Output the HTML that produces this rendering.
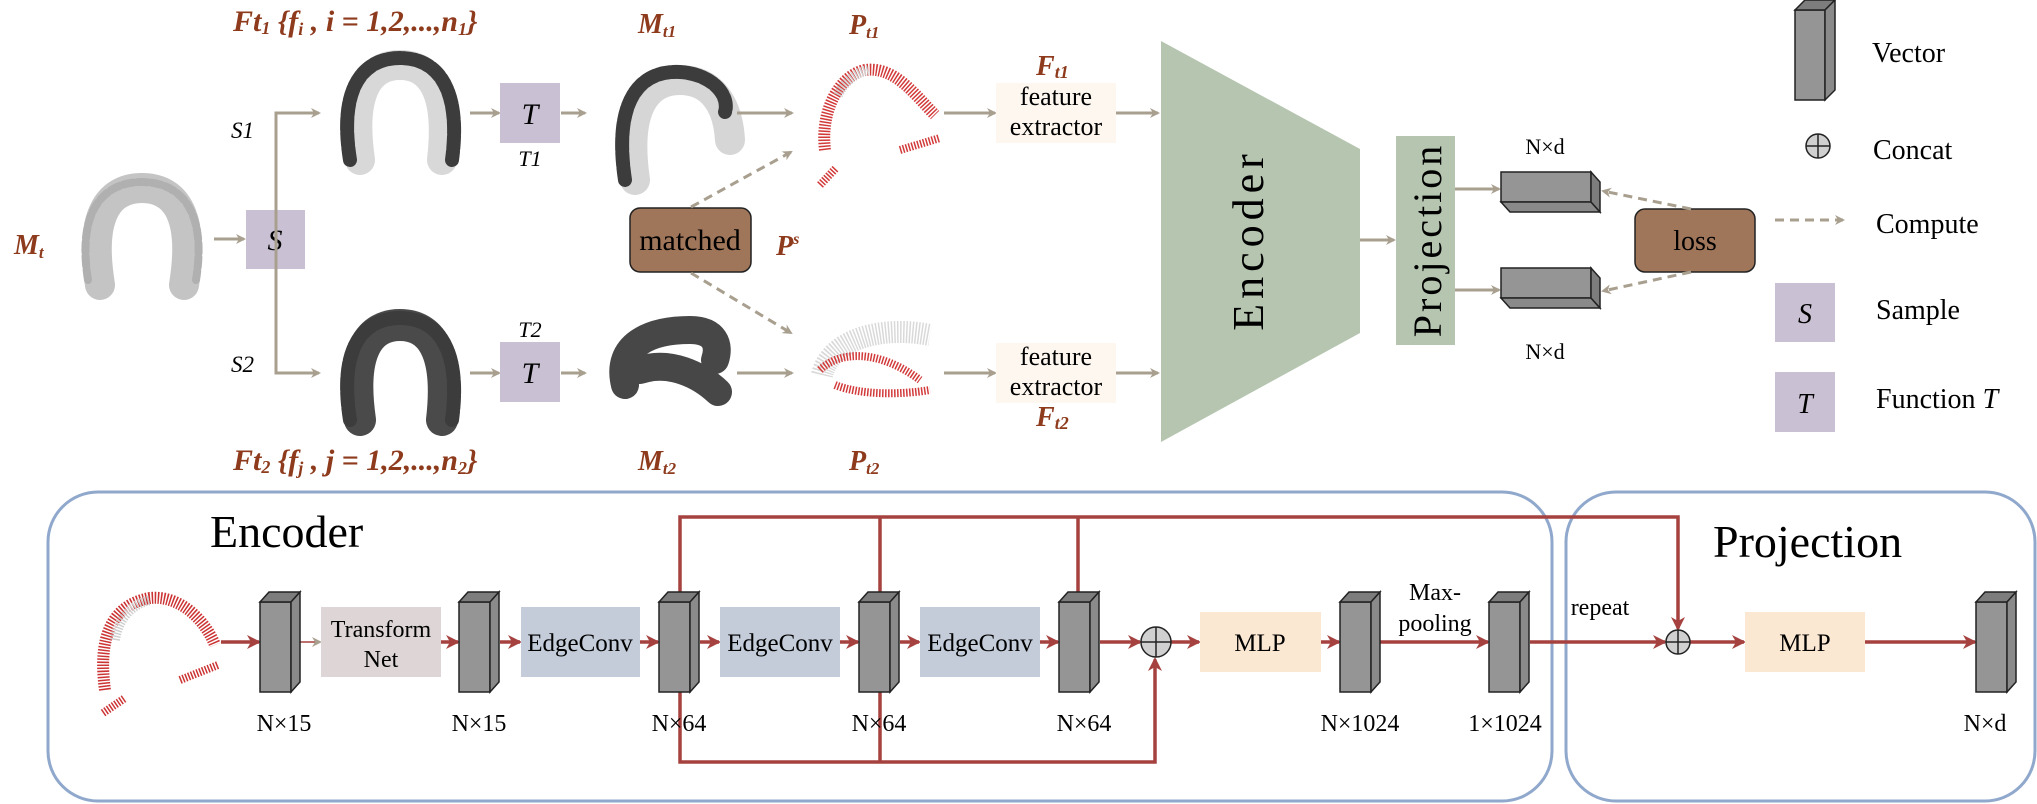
<!DOCTYPE html>
<html><head><meta charset="utf-8"><style>
html,body{margin:0;padding:0;background:#fff;}
svg{display:block;font-family:"Liberation Serif",serif;}
.br{fill:#8e3a1c;font-style:italic;font-weight:bold;}
</style></head><body>
<svg width="2037" height="804" viewBox="0 0 2037 804" xmlns="http://www.w3.org/2000/svg">
<defs>
<marker id="ag" markerWidth="10" markerHeight="10" refX="8" refY="5" orient="auto" markerUnits="userSpaceOnUse"><path d="M0,0 L10,5 L0,10 L3,5 Z" fill="#a89f8f"/></marker>
<marker id="ar" markerWidth="14" markerHeight="14" refX="12" refY="7" orient="auto" markerUnits="userSpaceOnUse"><path d="M0,0 L14,7 L0,14 L4,7 Z" fill="#a5423f"/></marker>
<g id="vec" stroke="#222" stroke-width="1.5" fill="#959595">
<rect x="0" y="10" width="31" height="90"/>
<polygon points="0,10 9,0 40,0 31,10" fill="#7d7d7d"/>
<polygon points="31,10 40,0 40,90 31,100" fill="#8a8a8a"/>
</g>
<g id="hvec" stroke="#222" stroke-width="1.5" fill="#959595">
<rect x="0" y="0" width="90" height="30"/>
<polygon points="0,30 90,30 99,40 9,40" fill="#8a8a8a"/>
<polygon points="90,0 99,10 99,40 90,30" fill="#7d7d7d"/>
</g>
</defs>

<!-- ===== top section ===== -->
<text class="br" x="233" y="31" font-size="30">Ft<tspan font-size="18" dy="3">1</tspan><tspan dy="-3"> {f</tspan><tspan font-size="18" dy="4">i</tspan><tspan dy="-4"> , i = 1,2,...,n</tspan><tspan font-size="18" dy="4">1</tspan><tspan dy="-4">}</tspan></text>
<text class="br" x="638" y="33" font-size="28">M<tspan font-size="17" dy="4">t1</tspan></text>
<text class="br" x="849" y="34" font-size="28">P<tspan font-size="17" dy="4">t1</tspan></text>
<text class="br" x="14" y="254" font-size="28">M<tspan font-size="17" dy="4">t</tspan></text>
<text class="br" x="233" y="470" font-size="30">Ft<tspan font-size="18" dy="3">2</tspan><tspan dy="-3"> {f</tspan><tspan font-size="18" dy="4">j</tspan><tspan dy="-4"> , j = 1,2,...,n</tspan><tspan font-size="18" dy="4">2</tspan><tspan dy="-4">}</tspan></text>
<text class="br" x="638" y="470" font-size="28">M<tspan font-size="17" dy="4">t2</tspan></text>
<text class="br" x="849" y="470" font-size="28">P<tspan font-size="17" dy="4">t2</tspan></text>
<text class="br" x="1036" y="75" font-size="28">F<tspan font-size="18" dy="3">t1</tspan></text>
<text class="br" x="1036" y="426" font-size="28">F<tspan font-size="18" dy="3">t2</tspan></text>
<text class="br" x="776" y="255" font-size="28">P<tspan font-size="16" dy="-11">s</tspan></text>

<!-- Mt mesh -->
<path d="M100,285 C88,210 112,188 142,188 C172,188 196,210 184,285" fill="none" stroke="#c4c4c4" stroke-width="30" stroke-linecap="round"/>
<path d="M88,280 C76,205 108,182 142,182 C176,182 208,205 196,280" fill="none" stroke="#b0b0b0" stroke-width="8" stroke-dasharray="10 4" stroke-linecap="round"/>

<!-- S branches -->
<line x1="214" y1="239" x2="244" y2="239" stroke="#a89f8f" stroke-width="3" marker-end="url(#ag)"/>
<rect x="246" y="210" width="59" height="59" fill="#c9c0d3"/>
<text x="275" y="250" font-size="30" font-style="italic" text-anchor="middle">S</text>
<polyline points="319,113 276,113 276,373 319,373" fill="none" stroke="#a89f8f" stroke-width="3"/>
<line x1="300" y1="113" x2="319" y2="113" stroke="#a89f8f" stroke-width="3" marker-end="url(#ag)"/>
<line x1="300" y1="373" x2="319" y2="373" stroke="#a89f8f" stroke-width="3" marker-end="url(#ag)"/>
<text x="231" y="138" font-size="23" font-style="italic">S1</text>
<text x="231" y="372" font-size="23" font-style="italic">S2</text>

<!-- mesh 1 -->
<path d="M360,160 C350,90 370,65 400,65 C430,65 450,90 442,160" fill="none" stroke="#d8d8d8" stroke-width="30" stroke-linecap="round"/>
<path d="M350,160 C338,85 365,58 400,58 C435,58 462,85 452,160" fill="none" stroke="#3c3c3c" stroke-width="14" stroke-dasharray="12 3" stroke-linecap="round"/>
<!-- mesh 2 -->
<path d="M360,420 C350,350 370,325 400,325 C430,325 450,350 442,420" fill="none" stroke="#4a4a4a" stroke-width="32" stroke-linecap="round"/>
<path d="M350,420 C338,345 365,318 400,318 C435,318 462,345 452,420" fill="none" stroke="#3c3c3c" stroke-width="14" stroke-dasharray="12 3" stroke-linecap="round"/>

<line x1="470" y1="113" x2="499" y2="113" stroke="#a89f8f" stroke-width="3" marker-end="url(#ag)"/>
<line x1="470" y1="373" x2="499" y2="373" stroke="#a89f8f" stroke-width="3" marker-end="url(#ag)"/>
<rect x="500" y="83" width="60" height="60" fill="#c9c0d3"/>
<text x="530" y="124" font-size="30" font-style="italic" text-anchor="middle">T</text>
<rect x="500" y="342" width="60" height="60" fill="#c9c0d3"/>
<text x="530" y="383" font-size="30" font-style="italic" text-anchor="middle">T</text>
<text x="530" y="166" font-size="22" font-style="italic" text-anchor="middle">T1</text>
<text x="530" y="337" font-size="22" font-style="italic" text-anchor="middle">T2</text>
<line x1="561" y1="113" x2="585" y2="113" stroke="#a89f8f" stroke-width="3" marker-end="url(#ag)"/>
<line x1="561" y1="373" x2="585" y2="373" stroke="#a89f8f" stroke-width="3" marker-end="url(#ag)"/>

<!-- Mt1 mesh -->
<path d="M635,180 C625,110 645,80 680,80 C712,80 728,105 730,140" fill="none" stroke="#d6d6d6" stroke-width="30" stroke-linecap="round"/>
<path d="M625,180 C613,100 640,70 680,72 C712,74 730,95 725,112" fill="none" stroke="#3c3c3c" stroke-width="14" stroke-dasharray="12 3" stroke-linecap="round"/>
<!-- Mt2 mesh -->
<path d="M625,385 C615,345 650,330 690,330 C715,330 720,345 715,360 M640,370 C670,360 700,375 718,392" fill="none" stroke="#474747" stroke-width="28" stroke-linecap="round"/>

<line x1="737" y1="113" x2="792" y2="113" stroke="#a89f8f" stroke-width="3" marker-end="url(#ag)"/>
<line x1="737" y1="373" x2="792" y2="373" stroke="#a89f8f" stroke-width="3" marker-end="url(#ag)"/>

<!-- Pt1 point cloud -->
<path d="M825,150 C820,110 840,75 865,70 C895,66 915,95 935,115" fill="none" stroke="#d23a3a" stroke-width="12" stroke-dasharray="1.5 1.5"/>
<path d="M838,95 C845,80 858,72 868,70" fill="none" stroke="#cfcfcf" stroke-width="10" stroke-dasharray="1.5 1.5"/>
<path d="M900,150 L940,138 M820,185 L836,168" fill="none" stroke="#d23a3a" stroke-width="8" stroke-dasharray="1.5 1.5"/>
<!-- Pt2 point cloud -->
<path d="M822,375 C830,340 880,325 930,335" fill="none" stroke="#d9d9d9" stroke-width="22" stroke-dasharray="1.5 1.5"/>
<path d="M820,370 C840,350 880,350 920,380 M835,385 C860,395 900,395 930,390" fill="none" stroke="#d23a3a" stroke-width="8" stroke-dasharray="1.5 1.5"/>

<line x1="944" y1="113" x2="995" y2="113" stroke="#a89f8f" stroke-width="3" marker-end="url(#ag)"/>
<line x1="944" y1="373" x2="995" y2="373" stroke="#a89f8f" stroke-width="3" marker-end="url(#ag)"/>

<!-- matched -->
<rect x="630" y="208" width="121" height="64" rx="10" fill="#a0765a" stroke="#222" stroke-width="1.5"/>
<text x="690" y="250" font-size="30" text-anchor="middle">matched</text>
<line x1="691" y1="207" x2="791" y2="152" stroke="#a89f8f" stroke-width="3" stroke-dasharray="9 6" marker-end="url(#ag)"/>
<line x1="691" y1="273" x2="791" y2="333" stroke="#a89f8f" stroke-width="3" stroke-dasharray="9 6" marker-end="url(#ag)"/>

<!-- feature extractors -->
<rect x="996" y="83" width="120" height="60" fill="#fdf7ef"/>
<text x="1056" y="105" font-size="26" text-anchor="middle">feature</text>
<text x="1056" y="135" font-size="26" text-anchor="middle">extractor</text>
<rect x="996" y="343" width="120" height="60" fill="#fdf7ef"/>
<text x="1056" y="365" font-size="26" text-anchor="middle">feature</text>
<text x="1056" y="395" font-size="26" text-anchor="middle">extractor</text>
<line x1="1116" y1="113" x2="1158" y2="113" stroke="#a89f8f" stroke-width="3" marker-end="url(#ag)"/>
<line x1="1116" y1="373" x2="1158" y2="373" stroke="#a89f8f" stroke-width="3" marker-end="url(#ag)"/>

<!-- Encoder trapezoid -->
<polygon points="1161,41 1360,149 1360,333 1161,442" fill="#b5c5b0"/>
<text transform="translate(1263,240) rotate(-90)" font-size="44" text-anchor="middle" letter-spacing="5">Encoder</text>
<line x1="1360" y1="240" x2="1394" y2="240" stroke="#a89f8f" stroke-width="3" marker-end="url(#ag)"/>
<rect x="1396" y="136" width="59" height="209" fill="#b5c5b0"/>
<text transform="translate(1441,240) rotate(-90)" font-size="40" text-anchor="middle" letter-spacing="3">Projection</text>
<line x1="1455" y1="189" x2="1499" y2="189" stroke="#a89f8f" stroke-width="3" marker-end="url(#ag)"/>
<line x1="1455" y1="290" x2="1499" y2="290" stroke="#a89f8f" stroke-width="3" marker-end="url(#ag)"/>
<use href="#hvec" x="1501" y="172"/>
<use href="#hvec" x="1501" y="268"/>
<text x="1545" y="154" font-size="22" text-anchor="middle">N×d</text>
<text x="1545" y="359" font-size="22" text-anchor="middle">N×d</text>
<rect x="1635" y="209" width="120" height="63" rx="10" fill="#a0765a" stroke="#222" stroke-width="1.5"/>
<text x="1695" y="250" font-size="28" text-anchor="middle">loss</text>
<line x1="1691" y1="209" x2="1603" y2="191" stroke="#a89f8f" stroke-width="3" stroke-dasharray="9 6" marker-end="url(#ag)"/>
<line x1="1691" y1="272" x2="1603" y2="291" stroke="#a89f8f" stroke-width="3" stroke-dasharray="9 6" marker-end="url(#ag)"/>

<!-- Legend -->
<g stroke="#222" stroke-width="1.5" fill="#959595">
<rect x="1795" y="10" width="30" height="90"/>
<polygon points="1795,10 1805,0 1835,0 1825,10" fill="#7d7d7d"/>
<polygon points="1825,10 1835,0 1835,90 1825,100" fill="#8a8a8a"/>
</g>
<text x="1872" y="62" font-size="28">Vector</text>
<circle cx="1818" cy="146" r="12" fill="#d0d0d0" stroke="#222" stroke-width="1.5"/>
<path d="M1806,146 H1830 M1818,134 V158" stroke="#222" stroke-width="1.5"/>
<text x="1873" y="159" font-size="28">Concat</text>
<line x1="1775" y1="220" x2="1843" y2="220" stroke="#a89f8f" stroke-width="3" stroke-dasharray="9 6" marker-end="url(#ag)"/>
<text x="1876" y="233" font-size="28">Compute</text>
<rect x="1775" y="283" width="60" height="59" fill="#c9c0d3"/>
<text x="1805" y="323" font-size="28" font-style="italic" text-anchor="middle">S</text>
<text x="1876" y="319" font-size="28">Sample</text>
<rect x="1775" y="372" width="60" height="60" fill="#c9c0d3"/>
<text x="1805" y="413" font-size="28" font-style="italic" text-anchor="middle">T</text>
<text x="1876" y="408" font-size="28">Function <tspan font-style="italic">T</tspan></text>

<!-- ===== bottom section ===== -->
<rect x="48" y="492" width="1504" height="309" rx="50" fill="none" stroke="#8fa8cc" stroke-width="3"/>
<rect x="1566" y="492" width="469" height="309" rx="50" fill="none" stroke="#8fa8cc" stroke-width="3"/>
<text x="210" y="547" font-size="46">Encoder</text>
<text x="1713" y="557" font-size="46">Projection</text>

<!-- point cloud -->
<path d="M105,690 C98,640 110,605 150,598 C180,595 205,620 215,645" fill="none" stroke="#cc3333" stroke-width="12" stroke-dasharray="1.5 1.5"/>
<path d="M115,640 C118,620 130,605 150,600" fill="none" stroke="#cfcfcf" stroke-width="10" stroke-dasharray="1.5 1.5"/>
<path d="M180,680 L218,665 M103,713 L125,698" fill="none" stroke="#cc3333" stroke-width="8" stroke-dasharray="1.5 1.5"/>

<!-- skip lines -->
<g stroke="#a5423f" stroke-width="3.5" fill="none">
<polyline points="680,592 680,517 1678,517 1678,628"/>
<line x1="880" y1="517" x2="880" y2="592"/>
<line x1="1078" y1="517" x2="1078" y2="592"/>
<polyline points="680,692 680,762 1155,762 1155,660"/>
<line x1="880" y1="692" x2="880" y2="762"/>
</g>
<line x1="1678" y1="600" x2="1678" y2="629" stroke="#a5423f" stroke-width="3" marker-end="url(#ar)"/>
<line x1="1155" y1="690" x2="1155" y2="659" stroke="#a5423f" stroke-width="3" marker-end="url(#ar)"/>

<!-- main line arrows -->
<g stroke="#a5423f" stroke-width="3.5">
<line x1="221" y1="642" x2="259" y2="642" marker-end="url(#ar)"/>
<line x1="441" y1="642" x2="458" y2="642" marker-end="url(#ar)"/>
<line x1="500" y1="642" x2="520" y2="642" marker-end="url(#ar)"/>
<line x1="640" y1="642" x2="658" y2="642" marker-end="url(#ar)"/>
<line x1="700" y1="642" x2="719" y2="642" marker-end="url(#ar)"/>
<line x1="840" y1="642" x2="858" y2="642" marker-end="url(#ar)"/>
<line x1="900" y1="642" x2="919" y2="642" marker-end="url(#ar)"/>
<line x1="1040" y1="642" x2="1058" y2="642" marker-end="url(#ar)"/>
<line x1="1100" y1="642" x2="1140" y2="642" marker-end="url(#ar)"/>
<line x1="1171" y1="642" x2="1199" y2="642" marker-end="url(#ar)"/>
<line x1="1321" y1="642" x2="1339" y2="642" marker-end="url(#ar)"/>
<line x1="1380" y1="642" x2="1488" y2="642" marker-end="url(#ar)"/>
<line x1="1530" y1="642" x2="1665" y2="642" marker-end="url(#ar)"/>
<line x1="1690" y1="642" x2="1744" y2="642" marker-end="url(#ar)"/>
<line x1="1865" y1="642" x2="1975" y2="642" marker-end="url(#ar)"/>
</g>
<line x1="300" y1="642" x2="320" y2="642" stroke="#a5423f" stroke-width="1.5" marker-end="url(#ag)"/>

<!-- boxes -->
<rect x="321" y="607" width="120" height="70" fill="#ded6d6"/>
<text x="381" y="637" font-size="24" text-anchor="middle">Transform</text>
<text x="381" y="667" font-size="24" text-anchor="middle">Net</text>
<rect x="521" y="607" width="119" height="70" fill="#c3ccd8"/>
<text x="580" y="651" font-size="25" text-anchor="middle">EdgeConv</text>
<rect x="720" y="607" width="120" height="70" fill="#c3ccd8"/>
<text x="780" y="651" font-size="25" text-anchor="middle">EdgeConv</text>
<rect x="920" y="607" width="120" height="70" fill="#c3ccd8"/>
<text x="980" y="651" font-size="25" text-anchor="middle">EdgeConv</text>
<rect x="1200" y="612" width="121" height="60" fill="#fbe8d3"/>
<text x="1260" y="651" font-size="25" text-anchor="middle">MLP</text>
<rect x="1745" y="612" width="120" height="60" fill="#fbe8d3"/>
<text x="1805" y="651" font-size="25" text-anchor="middle">MLP</text>

<!-- vectors -->
<use href="#vec" x="260" y="592"/>
<use href="#vec" x="459" y="592"/>
<use href="#vec" x="659" y="592"/>
<use href="#vec" x="859" y="592"/>
<use href="#vec" x="1059" y="592"/>
<use href="#vec" x="1340" y="592"/>
<use href="#vec" x="1489" y="592"/>
<use href="#vec" x="1976" y="592"/>

<!-- concat circles -->
<circle cx="1156" cy="642" r="15" fill="#d0d0d0" stroke="#222" stroke-width="1.5"/>
<path d="M1141,642 H1171 M1156,627 V657" stroke="#222" stroke-width="1.5"/>
<circle cx="1678" cy="642" r="12" fill="#d0d0d0" stroke="#222" stroke-width="1.5"/>
<path d="M1666,642 H1690 M1678,630 V654" stroke="#222" stroke-width="1.5"/>

<!-- labels -->
<g font-size="24" text-anchor="middle">
<text x="284" y="731">N×15</text>
<text x="479" y="731">N×15</text>
<text x="679" y="731">N×64</text>
<text x="879" y="731">N×64</text>
<text x="1084" y="731">N×64</text>
<text x="1360" y="731">N×1024</text>
<text x="1505" y="731">1×1024</text>
<text x="1985" y="731">N×d</text>
<text x="1435" y="600">Max-</text>
<text x="1435" y="631">pooling</text>
<text x="1600" y="615">repeat</text>
</g>
</svg>
</body></html>
